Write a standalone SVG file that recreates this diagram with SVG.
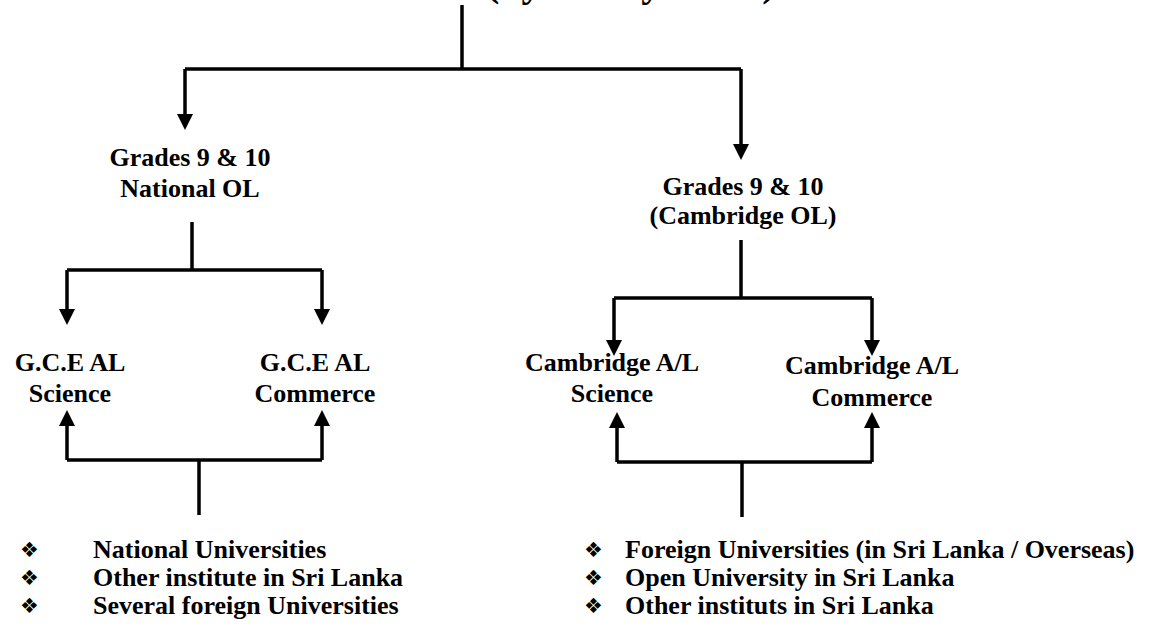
<svg xmlns="http://www.w3.org/2000/svg" width="1149" height="627" viewBox="0 0 1149 627">
<style>
  .t { font-family: "Liberation Serif", "Times New Roman", serif; font-weight: bold; font-size: 26px; fill: #000; text-anchor: middle; }
  .b { font-family: "Liberation Serif", "Times New Roman", serif; font-weight: bold; font-size: 26px; fill: #000; }
  .bul { font-family: "DejaVu Sans", sans-serif; font-size: 21px; fill: #000; }
  .c { stroke: #000; stroke-width: 3.5; fill: none; }
</style>
<defs>
  <marker id="ah" markerUnits="userSpaceOnUse" markerWidth="16" markerHeight="16" refX="0" refY="8" orient="auto" viewBox="0 0 16 16">
    <path d="M0,0 L16,8 L0,16 z" fill="#000"/>
  </marker>
</defs>
<rect width="1149" height="627" fill="#fff"/>
<text class="b" x="486" y="-4" style="font-size:40px">(by Yearly exam)</text>
<g id="connectors">
  <path class="c" d="M462,5 V69"/>
  <path class="c" d="M185,69 H741"/>
  <path class="c" d="M185,69 V114" marker-end="url(#ah)"/>
  <path class="c" d="M741,69 V144" marker-end="url(#ah)"/>
  <path class="c" d="M192,222 V270"/>
  <path class="c" d="M67,270 H322"/>
  <path class="c" d="M67,270 V309" marker-end="url(#ah)"/>
  <path class="c" d="M322,270 V309" marker-end="url(#ah)"/>
  <path class="c" d="M741,240 V298"/>
  <path class="c" d="M614,298 H872"/>
  <path class="c" d="M614,298 V340" marker-end="url(#ah)"/>
  <path class="c" d="M872,298 V340" marker-end="url(#ah)"/>
  <path class="c" d="M199,515 V460"/>
  <path class="c" d="M67,460 H322"/>
  <path class="c" d="M67,460 V426" marker-end="url(#ah)"/>
  <path class="c" d="M322,460 V426" marker-end="url(#ah)"/>
  <path class="c" d="M742,517 V462"/>
  <path class="c" d="M617,462 H872"/>
  <path class="c" d="M617,462 V428" marker-end="url(#ah)"/>
  <path class="c" d="M872,462 V428" marker-end="url(#ah)"/>
</g>
<g id="nat-ol"><text class="t" x="190" y="166">Grades 9 &amp; 10</text><text class="t" x="190" y="197">National OL</text></g>
<g id="cam-ol"><text class="t" x="743" y="195">Grades 9 &amp; 10</text><text class="t" x="743" y="224">(Cambridge OL)</text></g>
<g id="gce-sci"><text class="t" x="70" y="371">G.C.E AL</text><text class="t" x="70" y="402">Science</text></g>
<g id="gce-com"><text class="t" x="315" y="371">G.C.E AL</text><text class="t" x="315" y="402">Commerce</text></g>
<g id="cam-sci"><text class="t" x="612" y="371">Cambridge A/L</text><text class="t" x="612" y="402">Science</text></g>
<g id="cam-com"><text class="t" x="872" y="374">Cambridge A/L</text><text class="t" x="872" y="406">Commerce</text></g>
<g id="list-left">
  <text class="bul" x="20" y="557">❖</text><text class="b" x="93" y="558">National Universities</text>
  <text class="bul" x="20" y="585">❖</text><text class="b" x="93" y="586">Other institute in Sri Lanka</text>
  <text class="bul" x="20" y="613">❖</text><text class="b" x="93" y="614">Several foreign Universities</text>
</g>
<g id="list-right">
  <text class="bul" x="584" y="557">❖</text><text class="b" x="625" y="558">Foreign Universities (in Sri Lanka / Overseas)</text>
  <text class="bul" x="584" y="585">❖</text><text class="b" x="625" y="586">Open University in Sri Lanka</text>
  <text class="bul" x="584" y="613">❖</text><text class="b" x="625" y="614">Other instituts in Sri Lanka</text>
</g>
</svg>
